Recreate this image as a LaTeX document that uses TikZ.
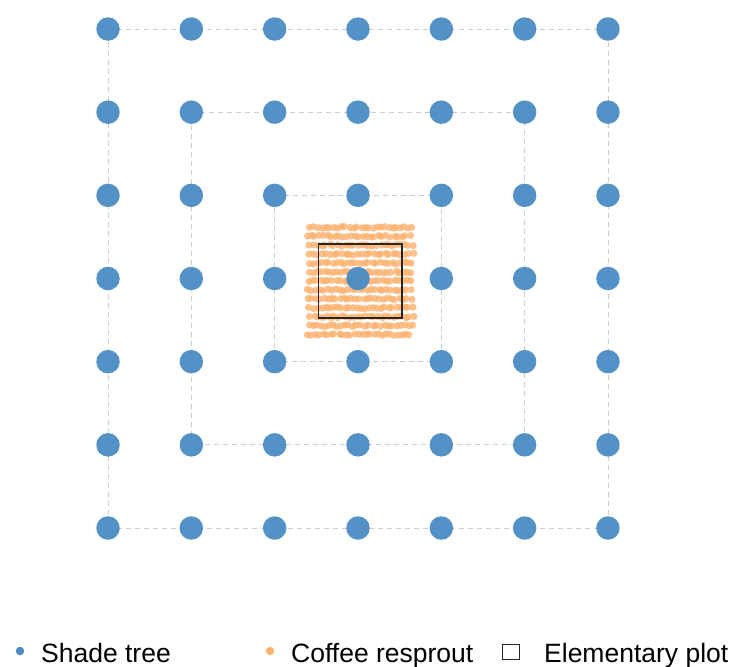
\documentclass[tikz,border=0pt]{standalone}
\usepackage{fontspec}
\setmainfont{Liberation Sans}
\usepackage{tikz}
\usetikzlibrary{positioning}
\definecolor{shadeblue}{RGB}{74,140,196}
\definecolor{coffeeorange}{RGB}{253,178,112}
\definecolor{ringgray}{RGB}{205,205,205}

\begin{document}
\begin{tikzpicture}[
    x=1pt, y=-1pt,
    tree/.style={circle, fill=shadeblue, fill opacity=0.95, draw=none, minimum size=23.5pt, inner sep=0pt},
    ring/.style={draw=ringgray, line width=0.9pt, dash pattern=on 5pt off 4pt},
    resprout/.style={fill=coffeeorange, fill opacity=0.8},
    plotbox/.style={draw=black!85, line width=1.2pt},
    legtext/.style={inner sep=0pt, text height=22pt, text depth=0pt, font=\fontsize{26.5}{30}\selectfont}
]
\useasboundingbox (0,0) rectangle (734,667);

% shade trees, 7 x 7
\foreach \i in {1,...,7} {
  \foreach \j in {1,...,7} {
    \coordinate (p-\i-\j) at ({108+(\i-1)*83.33}, {29+(\j-1)*83.17});
  }
}

% concentric rings
\foreach \k [evaluate=\k as \m using int(8-\k)] in {1,2,3} {
  \draw[ring] (p-\k-\k) -- (p-\m-\k) -- (p-\m-\m) -- (p-\k-\m) -- cycle;
}

% coffee resprouts
\pgfmathsetseed{11}
\foreach \r in {0,...,12} {
  \pgfmathsetmacro{\rowy}{227.3+\r*8.95}
  \pgfmathsetmacro{\rowx}{308.5+rand*2}
  \foreach \c in {0,...,26} {
    \fill[resprout] ({\rowx+\c*3.95+rand*1.3}, {\rowy+rand*0.9}) circle (3.6pt);
  }
}

\foreach \i in {1,...,7} {
  \foreach \j in {1,...,7} {
    \node[tree] (t-\i-\j) at (p-\i-\j) {};
  }
}

% elementary plot
\coordinate (ep1) at (318.5,244);
\coordinate (ep2) at (402,318);
\draw[plotbox] (ep1) rectangle (ep2);

% legend
\node[circle, fill=shadeblue, minimum size=8.5pt, inner sep=0pt] (lgs) at (20,651) {};
\node[legtext, right=16.5pt of lgs.east] (lgst) {Shade tree};
\node[circle, fill=coffeeorange, minimum size=8.5pt, inner sep=0pt] (lgc) at (270,651) {};
\node[legtext, right=16.5pt of lgc.east] (lgct) {Coffee resprout};
\node[draw=black!85, line width=1pt, minimum width=17pt, minimum height=15pt, inner sep=0pt] (lgp) at (511,651.5) {};
\node[legtext, right=24pt of lgp.east] (lgpt) {Elementary plot};
\end{tikzpicture}
\end{document}
